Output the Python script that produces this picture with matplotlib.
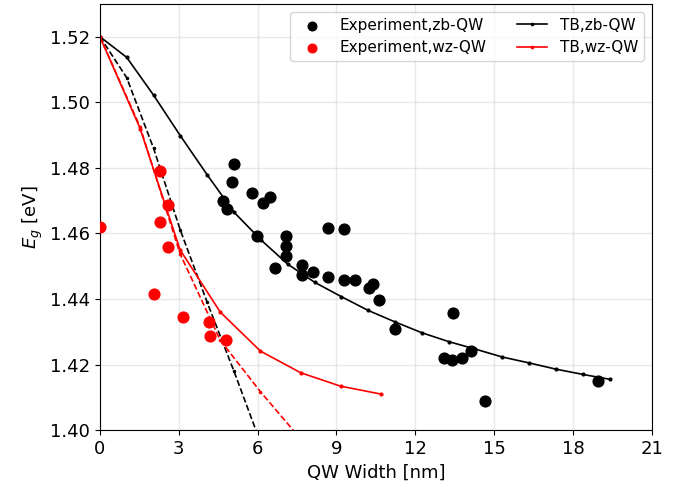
import numpy as np
import matplotlib
matplotlib.use("Agg")
import matplotlib.pyplot as plt

# experiment, zinc-blende QWs
exp_zb_w = [4.68, 4.83, 5.02, 5.10, 5.78, 6.20, 6.47, 5.97, 6.66, 7.07, 7.07, 7.07,
            7.68, 7.68, 8.10, 8.67, 8.67, 9.28, 9.28, 9.70, 10.23, 10.38, 10.61,
            11.22, 13.09, 13.39, 13.77, 13.43, 14.11, 14.64, 18.94]
exp_zb_e = [1.4700, 1.4673, 1.4758, 1.4813, 1.4722, 1.4694, 1.4710, 1.4591, 1.4496,
            1.4591, 1.4563, 1.4530, 1.4505, 1.4472, 1.4481, 1.4618, 1.4466, 1.4612,
            1.4457, 1.4457, 1.4435, 1.4447, 1.4396, 1.4308, 1.4219, 1.4213, 1.4219,
            1.4356, 1.4240, 1.4088, 1.4149]

# experiment, wurtzite QWs
exp_wz_w = [0.0, 2.28, 2.60, 2.28, 2.60, 2.07, 3.17, 4.15, 4.18, 4.78]
exp_wz_e = [1.4620, 1.4790, 1.4686, 1.4634, 1.4558, 1.4416, 1.4345, 1.4329, 1.4287, 1.4274]

# tight binding, zb
tb_zb_w = [0.0, 1.02, 2.04, 3.06, 4.08, 5.10, 6.13, 7.15, 8.17, 9.19,
           10.21, 11.23, 12.25, 13.27, 14.29, 15.31, 16.33, 17.35, 18.37, 19.40]
tb_zb_e = [1.5200, 1.5137, 1.5022, 1.4898, 1.4779, 1.4665, 1.4580, 1.4506, 1.4451, 1.4407,
           1.4365, 1.4330, 1.4297, 1.4270, 1.4247, 1.4223, 1.4205, 1.4186, 1.4170, 1.4155]
tb_zb2_w = [0.0, 1.02, 2.04, 3.06, 4.08, 5.10, 6.12]
tb_zb2_e = [1.5200, 1.5075, 1.4860, 1.4610, 1.4390, 1.4180, 1.3960]

# tight binding, wz
tb_wz_w = [0.0, 1.53, 3.05, 4.58, 6.11, 7.64, 9.16, 10.69]
tb_wz_e = [1.5200, 1.4920, 1.4550, 1.4360, 1.4241, 1.4175, 1.4134, 1.4110]
tb_wz2_w = [0.0, 1.53, 3.05, 4.58, 6.11, 7.64]
tb_wz2_e = [1.5200, 1.4925, 1.4538, 1.4274, 1.4117, 1.3973]

xticks = [0, 3, 6, 9, 12, 15, 18, 21]
yticks = [1.40, 1.42, 1.44, 1.46, 1.48, 1.50, 1.52]

fig = plt.figure(figsize=(6.89, 4.91), dpi=100)
ax = fig.add_axes([0.145, 0.124, 0.801, 0.868])

ax.grid(True, color='lightgray', alpha=0.5, linewidth=1)
ax.set_axisbelow(True)

ax.plot(tb_zb2_w, tb_zb2_e, '.--', color='black', markersize=3, linewidth=1.2)
ax.plot(tb_wz2_w, tb_wz2_e, '.--', color='red', markersize=3, linewidth=1.2)
ax.scatter(exp_zb_w, exp_zb_e, s=60, color='black', label='Experiment,zb-QW', zorder=3)
ax.scatter(exp_wz_w, exp_wz_e, s=60, color='red', label='Experiment,wz-QW', zorder=3)
ax.plot(tb_zb_w, tb_zb_e, '.-', color='black', markersize=4, linewidth=1.2, label='TB,zb-QW')
ax.plot(tb_wz_w, tb_wz_e, '.-', color='red', markersize=4, linewidth=1.2, label='TB,wz-QW')

ax.set_xlim(0, 21)
ax.set_ylim(1.40, 1.53)
ax.set_xticks(xticks)
ax.set_yticks(yticks)
ax.set_yticklabels(['%.2f' % v for v in yticks])
ax.tick_params(labelsize=13)
ax.set_xlabel('QW Width [nm]', fontsize=13)
ax.set_ylabel('$E_g$ [eV]', fontsize=13)

ax.legend(loc='upper right', ncol=2, fontsize=11, markerscale=0.8)

fig.savefig('out.png')
